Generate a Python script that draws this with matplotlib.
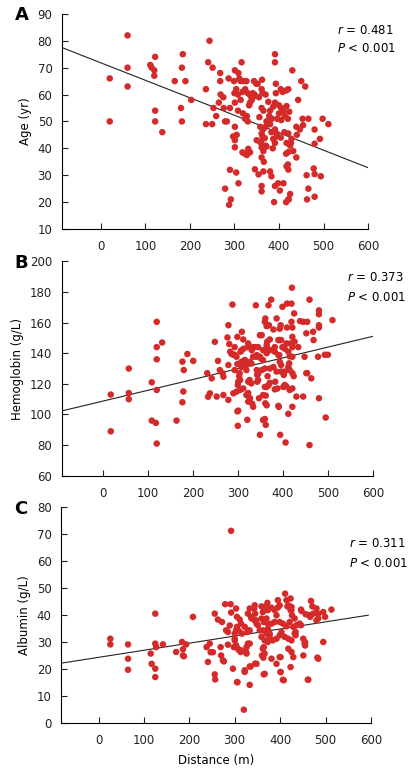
import matplotlib
matplotlib.use('Agg')
import matplotlib.pyplot as plt
import numpy as np

plt.rcParams['font.family'] = 'DejaVu Sans'
plt.rcParams['mathtext.fontset'] = 'dejavusans'

# Panel A: distance (m) vs age (yr)
dist_a = [20, 20, 60, 60, 60, 111, 114, 120, 122, 120, 122, 122, 138, 166, 184, 182, 180, 182, 190, 203,
          244, 241, 236, 236, 251, 253, 250, 259, 265, 268, 268, 269, 275, 276, 279, 283, 287, 279, 290, 292, 288,
          301, 309, 316, 299, 311, 314, 321, 327, 344, 349, 362, 393,
          300, 304, 308, 301, 330, 336, 341, 346, 361, 363, 376, 393, 404, 416, 421, 450, 459, 443, 430, 391, 391,
          290, 308, 319, 335, 339, 361, 365, 380, 387, 391, 400, 405, 417, 423, 413,
          324, 328, 356, 372, 380, 405, 453, 466, 498, 511,
          301, 358, 364, 361, 391, 395, 439, 447, 454, 480,
          297, 301, 305, 350, 358, 363, 368, 387, 391, 395, 421, 428, 480, 492,
          301, 331, 335, 328, 361, 365, 372, 421, 425, 318, 439, 361,
          304, 346, 354, 365, 380, 383, 417, 421, 462, 478, 480, 494,
          309, 361, 361, 391, 398, 402, 410, 425, 421, 466, 480,
          389, 416, 422, 463,
          330, 370, 383, 396, 400, 410, 420, 318, 324, 333, 345, 355, 370, 378, 384, 408, 412, 417, 420, 416,
          427, 432, 440, 360, 366, 370, 386, 404, 323, 314, 352]
age = [66, 50, 82, 70, 63, 71, 70, 69, 74, 67, 54, 50, 46, 65, 75, 70, 55, 50, 65, 58,
       80, 72, 62, 49, 70, 55, 49, 52, 57, 68, 65, 60, 59, 55, 50, 50, 66, 25, 32, 21, 19,
       69, 68, 72, 65, 66, 65, 65, 65, 65, 64, 65.5, 64,
       60.5, 62, 60, 57, 60.5, 59.5, 60.5, 59.5, 62, 60.6, 57.3, 60.5, 62, 61.5, 62, 65, 63, 58, 69, 75, 72,
       55, 54, 53, 57, 58, 55, 54, 54, 55.5, 57, 56, 55, 55.7, 53.6, 52,
       51, 52, 51.6, 50, 49, 50.5, 51, 51, 51, 49,
       48, 48, 47, 45.5, 47, 45.5, 48, 47, 48.6, 47,
       44.4, 43, 45, 43, 42.4, 44.4, 43.8, 43.5, 42, 44.4, 45.5, 43.5, 41.7, 43.5,
       40.4, 39.8, 38.5, 37.5, 40.3, 39, 40.7, 38.6, 41, 38.5, 36.6, 36.6,
       31, 32.2, 30.3, 31.4, 31.4, 29.6, 33.3, 32.1, 30, 32.5, 30.4, 29.6,
       27, 26, 24, 26, 27, 24.3, 27, 23, 21, 25, 22,
       20, 20, 21, 21,
       50, 48, 46, 51, 53, 54, 51, 61, 62, 56, 60, 59, 60, 52, 51, 61, 46, 42, 34, 38,
       42, 39, 45, 42, 35, 41, 40, 44, 38, 58, 64]

# Panel B: distance (m) vs hemoglobin (g/L)
dist_b = [18, 18, 58, 58, 58, 109, 109, 118, 120, 120, 120, 120, 120, 132, 164, 177, 180, 179, 177, 188, 201,
          232, 234, 238, 242, 249, 253, 256, 266, 268, 268, 279, 279, 279, 277, 281, 286, 288, 290, 293, 290, 297,
          299, 299, 299, 300, 301, 300, 304, 303, 308, 309, 312, 315, 319, 321, 323, 323, 326, 323, 325, 330, 331,
          332, 334, 338, 340, 341, 343, 343, 347, 349, 351, 353, 356, 356, 360, 361, 360, 360, 361, 360, 362, 362,
          364, 365, 364, 366, 366, 368, 371, 368, 369, 374, 379, 379, 379, 383, 386, 388, 391, 394, 392, 396, 392,
          393, 395, 393, 396, 396, 399, 404, 399, 402, 404, 408, 406, 409, 409, 412, 414, 415, 417, 419, 420, 419,
          421, 421, 421, 421, 421, 424, 421, 421, 425, 430, 434, 438, 445, 454, 445, 448, 452, 454, 459, 459, 463,
          467, 468, 478, 480, 480, 480, 480, 480, 493, 500, 495, 510,
          349, 371, 382, 390, 408, 426, 293, 306, 313, 323, 334, 345, 283, 297, 308, 316, 334, 342, 349, 364,
          371, 382, 390, 412, 415, 260, 293, 308, 319, 327, 342, 345, 353, 371, 386, 404, 412, 305, 305, 312,
          330, 345, 364, 382, 401, 415, 319, 327, 323, 356, 364, 390, 356, 301, 452]
hb = [89, 113, 130, 114, 110, 121, 96, 94.5, 160.5, 144, 136, 116, 81, 147, 96, 134.5, 129, 115, 108, 139.5, 135,
      127, 111.6, 113.8, 123.6, 147.4, 111.7, 135, 127, 124.7, 112.7, 132.3, 158.3, 109.5, 150.3, 146, 139.5,
      171.8, 139, 139, 113.8, 114.9, 150.7, 133, 102, 92.6, 121.4, 119.3, 127, 125, 142, 154, 149, 135.5, 132.3,
      96.5, 144, 121.4, 122.5, 114, 109, 133.3, 142, 107, 105, 144, 171.3, 137.7, 121.4, 125.8, 110.6, 86.7,
      136.6, 151.8, 142, 135.5, 160.5, 162.7, 130, 118, 107.3, 97, 93.2, 112.3, 157.7, 147.5, 145.3, 143, 125,
      119, 120.7, 171.3, 158.3, 175, 155.5, 142, 131, 121.4, 162.7, 117, 105, 86.7, 148.6, 148.6, 138.8, 156,
      158.3, 134.4, 132.3, 128, 144, 143, 170.3, 125.8, 119.3, 118.2, 81.7, 172.4, 156.8, 100.4, 133.4, 129,
      146.4, 172.4, 182.8, 160.5, 156.8, 150.7, 144, 137.7, 127, 125, 117, 105, 166, 111.7, 144, 161, 160.5,
      160.5, 111.7, 137.7, 153, 127, 175, 80, 123.6, 154, 148.6, 137.7, 168, 165.5, 158.3, 156.8, 110.6, 139,
      139, 98, 161.6,
      151.8, 149, 144, 148.6, 146.4, 147.5, 144, 141, 143, 146.4, 144, 144, 141, 137.7, 134.4, 135.5, 137.7,
      138.8, 137.7, 140, 142, 141, 138.8, 141, 138, 129, 129, 131, 129, 134.4, 129, 126.4, 129, 130, 128, 128,
      131, 122.5, 116, 117, 120.3, 122.5, 118, 116.4, 118, 116, 112.7, 110.6, 108.4, 112.7, 106, 105.6, 96.4,
      102.5, 127]

# Panel C: distance (m) vs albumin (g/L)
dist_c = [26, 26, 65, 65, 65, 115, 117, 125, 125, 125, 125, 127, 142, 171, 184, 186, 186, 188, 193, 208,
          238, 241, 245, 247, 252, 256, 256, 257, 263, 269, 270, 272, 276, 279, 291, 281, 285, 289, 292, 292,
          296, 298, 300, 303, 305, 305, 305, 309, 309, 311, 313, 316, 320, 322, 326, 326, 329, 328, 333, 333,
          337, 333, 333, 343, 345, 345, 347, 351, 355, 359, 362, 369, 360, 363, 364, 364, 370, 373, 373, 377,
          377, 372, 381, 395, 395, 399, 401, 399, 408, 411, 414, 416, 423, 423, 425, 425, 434, 434, 446, 446,
          451, 455, 455, 451, 461, 463, 466, 468, 471, 480, 484, 484, 480, 482, 495, 499, 495, 513,
          344, 359, 373, 381, 388, 392, 399, 418, 423, 426, 432, 447, 456, 473, 329, 336, 344, 348, 359, 364,
          381, 388, 399, 406, 414, 421, 429, 436, 443, 314, 322, 329, 303, 300, 285, 362, 370, 366, 373, 384,
          392, 403, 410, 418, 425, 432, 454, 300, 303, 307, 314, 325, 333, 274, 362, 366, 392, 401, 418, 425,
          429, 484, 322, 335, 348, 366, 401, 406, 462, 306]
alb = [31.3, 29.2, 29.2, 23.9, 19.8, 25.8, 22, 20.2, 17.1, 40.6, 29.5, 28.2, 29.2, 26.4, 30.1, 27.4, 25.1, 24.8,
       29.2, 39.4, 28.2, 22.7, 29.5, 26.3, 26.3, 40.6, 18.1, 16.2, 38.4, 28.2, 25.1, 37.5, 22.9, 44.1, 44.1,
       34.4, 29.1, 36.2, 71.3, 41, 20.2, 28.2, 31.3, 42.5, 39.4, 35.7, 15.2, 34.2, 27.2, 38.4, 26.4, 33.2, 5,
       19, 25.8, 28.2, 29.5, 33.8, 34.4, 42.5, 38.8, 21, 14.2, 42.5, 40.6, 22.1, 38.1, 36.3, 34.4, 32, 41.2,
       43.1, 25.1, 24.3, 28.2, 18.1, 38.8, 36.9, 35, 33.2, 32, 44.6, 23.9, 45.6, 42.9, 32.6, 19, 24.5, 15.9,
       48, 45.6, 43.3, 46.2, 20.8, 43.1, 41.9, 33.8, 32.6, 42.1, 36.3, 31.3, 30, 28.8, 25.1, 16.1, 40.1, 39.4,
       45.3, 43.3, 42.5, 40.6, 38.8, 38.1, 24.3, 41.2, 39.4, 30.1, 42.1,
       43.7, 43.3, 41.9, 42.8, 41.9, 40, 43.7, 43.7, 41.9, 40, 38.8, 41.6, 40.4, 40.6, 40.6, 39.4, 38.1, 36.9,
       38.8, 37.5, 36.9, 37.5, 37.5, 36.9, 35.9, 37.5, 35.7, 36.3, 36.9, 36.9, 35.7, 34.4, 34.4, 33.2, 33.8,
       34.4, 33.2, 30.7, 30.1, 30.7, 31.3, 33.8, 32, 31.3, 30.7, 33.2, 29.5, 30.7, 28.9, 27.6, 27, 26.4, 29.5,
       23.3, 27.6, 25.8, 22, 24.5, 27.6, 26.4, 24.5, 23.9, 19.6, 21, 22, 18.3, 18.9, 16.1, 16.1, 15.2]

# fitted regression lines (intercept, slope) and annotations
fit_a = (71.8, -0.065)
fit_b = (108.7, 0.0706)
fit_c = (24.4, 0.0263)
stats = [('0.481', '0.001'), ('0.373', '0.001'), ('0.311', '0.001')]

red = '#d42a2a'

fig = plt.figure(figsize=(4.14, 7.71), dpi=100)

panels = [
    dict(pos=[0.150, 0.703, 0.739, 0.279], x=dist_a, y=age, fit=fit_a, xlim=(-87, 600), xend=600,
         ylim=(10, 90), yt=np.arange(10, 91, 10), ylabel='Age (yr)', letter='A', txt=(0.90, 0.925, 0.837)),
    dict(pos=[0.150, 0.383, 0.751, 0.278], x=dist_b, y=hb, fit=fit_b, xlim=(-90, 600), xend=600,
         ylim=(60, 200), yt=np.arange(60, 201, 20), ylabel='Hemoglobin (g/L)', letter='B', txt=(0.916, 0.926, 0.833)),
    dict(pos=[0.148, 0.062, 0.748, 0.280], x=dist_c, y=alb, fit=fit_c, xlim=(-82, 600), xend=594,
         ylim=(0, 80), yt=np.arange(0, 81, 10), ylabel='Albumin (g/L)', letter='C', txt=(0.929, 0.833, 0.74)),
]

for i, p in enumerate(panels):
    ax = fig.add_axes(p['pos'])
    ax.scatter(p['x'], p['y'], s=22, color=red, edgecolors='none', zorder=3)
    xs = np.array([p['xlim'][0], p['xend']])
    ax.plot(xs, p['fit'][0] + p['fit'][1] * xs, color='#222222', lw=0.8, zorder=2)
    ax.set_xlim(p['xlim'])
    ax.set_ylim(p['ylim'])
    ax.set_xticks(range(0, 601, 100))
    ax.set_yticks(p['yt'])
    ax.spines['top'].set_visible(False)
    ax.spines['right'].set_visible(False)
    for s in ['left', 'bottom']:
        ax.spines[s].set_linewidth(0.8)
    ax.tick_params(direction='in', length=4, width=0.8, labelsize=8.5, colors='#222222')
    ax.tick_params(axis='x', pad=8)
    ax.tick_params(axis='y', pad=7)
    ax.set_ylabel(p['ylabel'], fontsize=8.5, labelpad=4)
    tx, ty1, ty2 = p['txt']
    r, pv = stats[i]
    ax.text(tx, ty1, '$r$ = ' + r, transform=ax.transAxes, fontsize=8.5, va='center', ha='left')
    ax.text(tx, ty2, '$P$ < ' + pv, transform=ax.transAxes, fontsize=8.5, va='center', ha='left')
    fig.text(0.035, p['pos'][1] + p['pos'][3] - 0.002, p['letter'], fontsize=13, fontweight='bold',
             va='center', ha='left')
    if i == 2:
        ax.set_xlabel('Distance (m)', fontsize=8.5, labelpad=5)

fig.savefig('out.png', dpi=100)
